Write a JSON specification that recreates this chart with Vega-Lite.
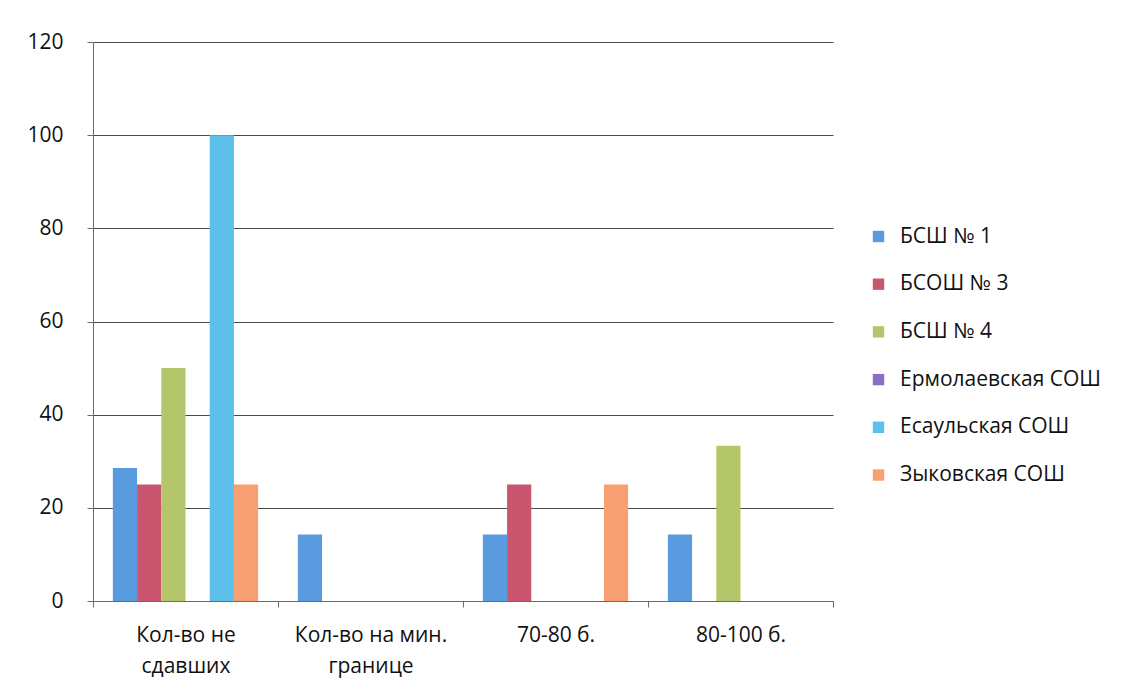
{
  "$schema": "https://vega.github.io/schema/vega-lite/v6.json",
  "autosize": "none",
  "width": 740,
  "height": 559,
  "padding": {"left": 93, "top": 42, "right": 303, "bottom": 90},
  "background": "white",
  "config": {
    "view": {"stroke": null},
    "font": "Open Sans"
  },
  "data": {
    "values": [
      {"cat": "Кол-во не сдавших", "school": "БСШ № 1", "v": 28.57},
      {"cat": "Кол-во не сдавших", "school": "БСОШ № 3", "v": 25},
      {"cat": "Кол-во не сдавших", "school": "БСШ № 4", "v": 50},
      {"cat": "Кол-во не сдавших", "school": "Ермолаевская СОШ", "v": 0},
      {"cat": "Кол-во не сдавших", "school": "Есаульская СОШ", "v": 100},
      {"cat": "Кол-во не сдавших", "school": "Зыковская СОШ", "v": 25},
      {"cat": "Кол-во на мин. границе", "school": "БСШ № 1", "v": 14.29},
      {"cat": "Кол-во на мин. границе", "school": "БСОШ № 3", "v": 0},
      {"cat": "Кол-во на мин. границе", "school": "БСШ № 4", "v": 0},
      {"cat": "Кол-во на мин. границе", "school": "Ермолаевская СОШ", "v": 0},
      {"cat": "Кол-во на мин. границе", "school": "Есаульская СОШ", "v": 0},
      {"cat": "Кол-во на мин. границе", "school": "Зыковская СОШ", "v": 0},
      {"cat": "70-80 б.", "school": "БСШ № 1", "v": 14.29},
      {"cat": "70-80 б.", "school": "БСОШ № 3", "v": 25},
      {"cat": "70-80 б.", "school": "БСШ № 4", "v": 0},
      {"cat": "70-80 б.", "school": "Ермолаевская СОШ", "v": 0},
      {"cat": "70-80 б.", "school": "Есаульская СОШ", "v": 0},
      {"cat": "70-80 б.", "school": "Зыковская СОШ", "v": 25},
      {"cat": "80-100 б.", "school": "БСШ № 1", "v": 14.29},
      {"cat": "80-100 б.", "school": "БСОШ № 3", "v": 0},
      {"cat": "80-100 б.", "school": "БСШ № 4", "v": 33.33},
      {"cat": "80-100 б.", "school": "Ермолаевская СОШ", "v": 0},
      {"cat": "80-100 б.", "school": "Есаульская СОШ", "v": 0},
      {"cat": "80-100 б.", "school": "Зыковская СОШ", "v": 0}
    ]
  },
  "mark": {"type": "bar"},
  "encoding": {
    "x": {
      "field": "cat",
      "type": "nominal",
      "sort": null,
      "scale": {"paddingInner": 0, "paddingOuter": 0},
      "axis": {
        "title": null,
        "labelAngle": 0,
        "labelFontSize": 21,
        "labelColor": "#111111",
        "labelPadding": 17,
        "labelLineHeight": 31,
        "labelExpr": "datum.label == 'Кол-во не сдавших' ? ['Кол-во не', 'сдавших'] : datum.label == 'Кол-во на мин. границе' ? ['Кол-во на мин.', 'границе'] : datum.label",
        "tickBand": "extent",
        "tickSize": 6,
        "tickColor": "#6a6a6a",
        "domainColor": "#6a6a6a",
        "labelBaseline": "top"
      }
    },
    "xOffset": {
      "field": "school",
      "type": "nominal",
      "sort": null,
      "scale": {"paddingInner": 0, "paddingOuter": 0.82}
    },
    "y": {
      "field": "v",
      "type": "quantitative",
      "scale": {"domain": [0, 120], "nice": false},
      "axis": {
        "title": null,
        "values": [0, 20, 40, 60, 80, 100, 120],
        "labelFontSize": 21,
        "labelColor": "#111111",
        "labelPadding": 24,
        "tickSize": 6,
        "tickColor": "#6a6a6a",
        "domainColor": "#6a6a6a",
        "grid": true,
        "gridColor": "#4a4a4a",
        "gridWidth": 1
      }
    },
    "color": {
      "field": "school",
      "type": "nominal",
      "sort": null,
      "scale": {
        "domain": ["БСШ № 1", "БСОШ № 3", "БСШ № 4", "Ермолаевская СОШ", "Есаульская СОШ", "Зыковская СОШ"],
        "range": ["#5A9BE0", "#C9556F", "#B3C76A", "#8A6FC9", "#5CC0EB", "#F8A073"]
      },
      "legend": {
        "title": null,
        "orient": "none",
        "legendX": 775,
        "legendY": 184,
        "padding": 0,
        "symbolType": "square",
        "symbolSize": 130,
        "symbolStrokeWidth": 0,
        "labelFontSize": 21,
        "labelColor": "#111111",
        "labelOffset": 11,
        "rowPadding": 25.7,
        "labelLimit": 300
      }
    }
  }
}
